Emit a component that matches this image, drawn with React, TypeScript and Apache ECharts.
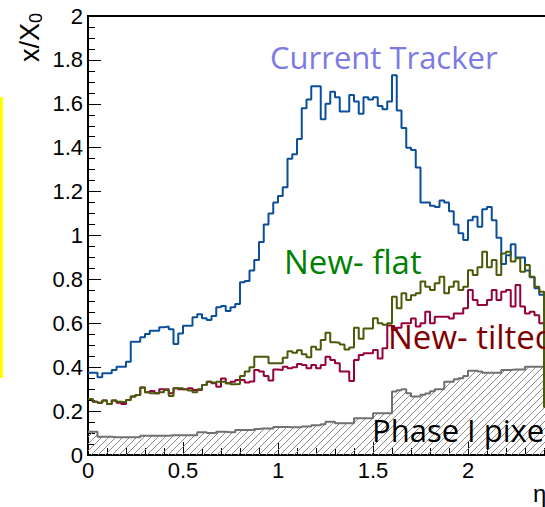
import React, { useEffect, useRef } from "react";
import * as echarts from "echarts";

// Material budget x/X0 versus eta, in bins of 0.025 starting at eta = 0.
const BIN_WIDTH = 0.025;

const currentTracker = [
  0.375, 0.375, 0.354, 0.372, 0.372, 0.387, 0.402, 0.402, 0.425, 0.516,
  0.516, 0.536, 0.551, 0.566, 0.566, 0.582, 0.585, 0.573, 0.506, 0.554,
  0.589, 0.589, 0.627, 0.641, 0.623, 0.615, 0.633, 0.673, 0.679, 0.656,
  0.673, 0.688, 0.787, 0.793, 0.84, 0.888, 0.97, 1.05, 1.1, 1.15,
  1.18, 1.22, 1.35, 1.37, 1.44, 1.58, 1.62, 1.68, 1.68, 1.53,
  1.6, 1.655, 1.63, 1.565, 1.565, 1.64, 1.61, 1.555, 1.63, 1.62,
  1.63, 1.59, 1.575, 1.61, 1.73, 1.57, 1.49, 1.4, 1.39, 1.31,
  1.15, 1.15, 1.135, 1.13, 1.16, 1.15, 1.11, 1.05, 1.01, 0.98,
  1.07, 1.085, 1.04, 1.12, 1.13, 1.07, 0.99, 0.87, 0.91, 0.96,
  0.9, 0.9, 0.84, 0.81, 0.76, 0.73, 0.74,
];

const newFlat = [
  0.255, 0.243, 0.238, 0.248, 0.232, 0.248, 0.243, 0.24, 0.251, 0.266,
  0.273, 0.308, 0.286, 0.281, 0.281, 0.286, 0.296, 0.269, 0.304, 0.304,
  0.299, 0.294, 0.286, 0.299, 0.319, 0.334, 0.33, 0.334, 0.334, 0.327,
  0.322, 0.323, 0.36, 0.38, 0.4, 0.448, 0.448, 0.448, 0.418, 0.418,
  0.418, 0.443, 0.473, 0.466, 0.477, 0.459, 0.445, 0.493, 0.481, 0.524,
  0.557, 0.514, 0.511, 0.503, 0.481, 0.49, 0.58, 0.53, 0.576, 0.576,
  0.623, 0.6, 0.593, 0.6, 0.721, 0.668, 0.737, 0.706, 0.728, 0.737,
  0.79, 0.767, 0.752, 0.782, 0.812, 0.737, 0.767, 0.79, 0.752, 0.767,
  0.842, 0.82, 0.855, 0.926, 0.855, 0.888, 0.82, 0.918, 0.926, 0.881,
  0.896, 0.835, 0.866, 0.812, 0.767, 0.744, 0.22,
];

const newTilted = [
  0.255, 0.243, 0.238, 0.248, 0.232, 0.248, 0.238, 0.232, 0.251, 0.266,
  0.273, 0.308, 0.286, 0.292, 0.281, 0.299, 0.299, 0.281, 0.304, 0.299,
  0.299, 0.304, 0.296, 0.296, 0.319, 0.334, 0.327, 0.311, 0.349, 0.327,
  0.334, 0.342, 0.342, 0.33, 0.335, 0.387, 0.38, 0.36, 0.339, 0.39,
  0.387, 0.402, 0.395, 0.4, 0.415, 0.41, 0.395, 0.41, 0.395, 0.41,
  0.448, 0.433, 0.418, 0.38, 0.38, 0.337, 0.433, 0.456, 0.463, 0.463,
  0.478, 0.44, 0.486, 0.59, 0.57, 0.58, 0.6, 0.6, 0.622, 0.585,
  0.6, 0.653, 0.6, 0.63, 0.63, 0.63, 0.622, 0.645, 0.645, 0.668,
  0.752, 0.706, 0.683, 0.683, 0.706, 0.752, 0.706, 0.744, 0.752, 0.676,
  0.775, 0.676, 0.645, 0.653, 0.637, 0.6, 0.22,
];

const phaseOnePixel = [
  0.106, 0.106, 0.083, 0.083, 0.083, 0.081, 0.081, 0.081, 0.081, 0.081,
  0.081, 0.088, 0.088, 0.088, 0.088, 0.088, 0.088, 0.09, 0.09, 0.09,
  0.09, 0.09, 0.09, 0.104, 0.104, 0.1, 0.1, 0.106, 0.106, 0.104,
  0.104, 0.114, 0.114, 0.114, 0.114, 0.118, 0.121, 0.121, 0.121, 0.128,
  0.128, 0.128, 0.126, 0.126, 0.126, 0.13, 0.13, 0.135, 0.135, 0.14,
  0.152, 0.152, 0.145, 0.145, 0.145, 0.145, 0.167, 0.167, 0.167, 0.167,
  0.19, 0.19, 0.19, 0.19, 0.289, 0.295, 0.299, 0.281, 0.266, 0.266,
  0.275, 0.28, 0.29, 0.3, 0.3, 0.334, 0.334, 0.345, 0.35, 0.36,
  0.384, 0.384, 0.38, 0.375, 0.375, 0.375, 0.375, 0.387, 0.387, 0.39,
  0.39, 0.39, 0.402, 0.402, 0.402, 0.402, 0.405,
];

const X_MIN = 0;
const X_MAX = 2.5;
const X_STEP = 0.5;
const X_LAST_LABEL = 2;
const Y_MIN = 0;
const Y_MAX = 2;
const Y_STEP = 0.2;

// Turn per-bin contents into left-edge points for a step outline.
function toSteps(values: number[]): [number, number][] {
  const pts: [number, number][] = values.map((v, i) => [i * BIN_WIDTH, v]);
  pts.push([values.length * BIN_WIDTH, values[values.length - 1]]);
  return pts;
}

// Tileable "/" hatch used for the filled pixel-detector histogram.
function hatchPattern(): HTMLCanvasElement {
  const s = 7;
  const c = document.createElement("canvas");
  c.width = s;
  c.height = s;
  const ctx = c.getContext("2d")!;
  ctx.strokeStyle = "#8a8a8a";
  ctx.lineWidth = 1;
  ctx.beginPath();
  ctx.moveTo(0, s);
  ctx.lineTo(s, 0);
  ctx.moveTo(-1, 1);
  ctx.lineTo(1, -1);
  ctx.moveTo(s - 1, s + 1);
  ctx.lineTo(s + 1, s - 1);
  ctx.stroke();
  return c;
}

const AXIS_FONT = "Liberation Sans";
const NOTE_FONT = "Open Sans";

export default function App() {
  const ref = useRef<HTMLDivElement>(null);

  useEffect(() => {
    if (!ref.current) return;
    const chart = echarts.init(ref.current, undefined, { renderer: "svg" });

    const stepLine = (name: string, values: number[], color: string, z: number) => ({
      name,
      type: "line",
      step: "end",
      data: toSteps(values),
      showSymbol: false,
      symbol: "none",
      z,
      lineStyle: { color, width: 2 },
      emphasis: { disabled: true },
    });

    const axisCommon = {
      axisLine: { show: true, lineStyle: { color: "#000", width: 2 } },
      axisTick: { show: true, inside: true, length: 13, lineStyle: { color: "#000", width: 1 } },
      minorTick: { show: true, length: 7, lineStyle: { color: "#000", width: 1 } },
      splitLine: { show: false },
      minorSplitLine: { show: false },
    };

    const note = (text: string, x: number, y: number, size: number, fill: string) => ({
      type: "text",
      x,
      y,
      z: 10,
      style: {
        text,
        fontFamily: NOTE_FONT,
        fontSize: size,
        fill,
        textAlign: "left",
        textVerticalAlign: "middle",
      },
    });

    chart.setOption({
      animation: false,
      backgroundColor: "#fff",
      grid: {
        left: 88,
        top: 16,
        width: 475,
        height: 439,
        show: true,
        borderColor: "#000",
        borderWidth: 2,
        backgroundColor: "transparent",
      },
      xAxis: {
        type: "value",
        min: X_MIN,
        max: X_MAX,
        interval: X_STEP,
        ...axisCommon,
        minorTick: { ...axisCommon.minorTick, splitNumber: 5 },
        axisLabel: {
          color: "#000",
          fontFamily: AXIS_FONT,
          fontSize: 22,
          margin: 4,
          formatter: (v: number) => (v > X_LAST_LABEL + 1e-9 ? "" : String(+v.toFixed(2))),
        },
      },
      yAxis: {
        type: "value",
        min: Y_MIN,
        max: Y_MAX,
        interval: Y_STEP,
        ...axisCommon,
        minorTick: { ...axisCommon.minorTick, splitNumber: 4 },
        axisLabel: {
          color: "#000",
          fontFamily: AXIS_FONT,
          fontSize: 22,
          margin: 5,
        },
      },
      series: [
        {
          ...stepLine("Phase I pixel", phaseOnePixel, "#707070", 1),
          areaStyle: {
            color: { image: hatchPattern(), repeat: "repeat" },
            opacity: 1,
          },
        },
        stepLine("Current Tracker", currentTracker, "#0b4f9a", 2),
        stepLine("New- tilted", newTilted, "#96003c", 3),
        stepLine("New- flat", newFlat, "#4a5a08", 4),
      ],
      graphic: [
        {
          type: "rect",
          shape: { x: 0, y: 97, width: 3, height: 281 },
          style: { fill: "#ffff00" },
        },
        {
          type: "text",
          x: 30,
          y: 62,
          rotation: Math.PI / 2,
          style: {
            text: "x/X",
            fontFamily: AXIS_FONT,
            fontSize: 27,
            fill: "#000",
            textAlign: "left",
            textVerticalAlign: "middle",
          },
        },
        {
          type: "text",
          x: 35.5,
          y: 23,
          rotation: Math.PI / 2,
          style: {
            text: "0",
            fontFamily: AXIS_FONT,
            fontSize: 18,
            fill: "#000",
            textAlign: "left",
            textVerticalAlign: "middle",
          },
        },
        {
          type: "text",
          x: 533,
          y: 493,
          style: {
            text: "η",
            fontFamily: AXIS_FONT,
            fontSize: 24,
            fill: "#000",
            textAlign: "left",
            textVerticalAlign: "middle",
          },
        },
        note("Current Tracker", 270, 56.5, 31, "#7b7be6"),
        note("New- flat", 284, 261.5, 33, "#008000"),
        note("New- tilted", 388, 336, 33, "#800000"),
        note("Phase I pixel", 372, 430, 31, "#000"),
      ],
    });

    return () => chart.dispose();
  }, []);

  return (
    <div
      style={{
        position: "fixed",
        left: 0,
        top: 0,
        width: 545,
        height: 507,
        overflow: "hidden",
        background: "#fff",
      }}
    >
      <div ref={ref} style={{ width: 640, height: 507 }} />
    </div>
  );
}
